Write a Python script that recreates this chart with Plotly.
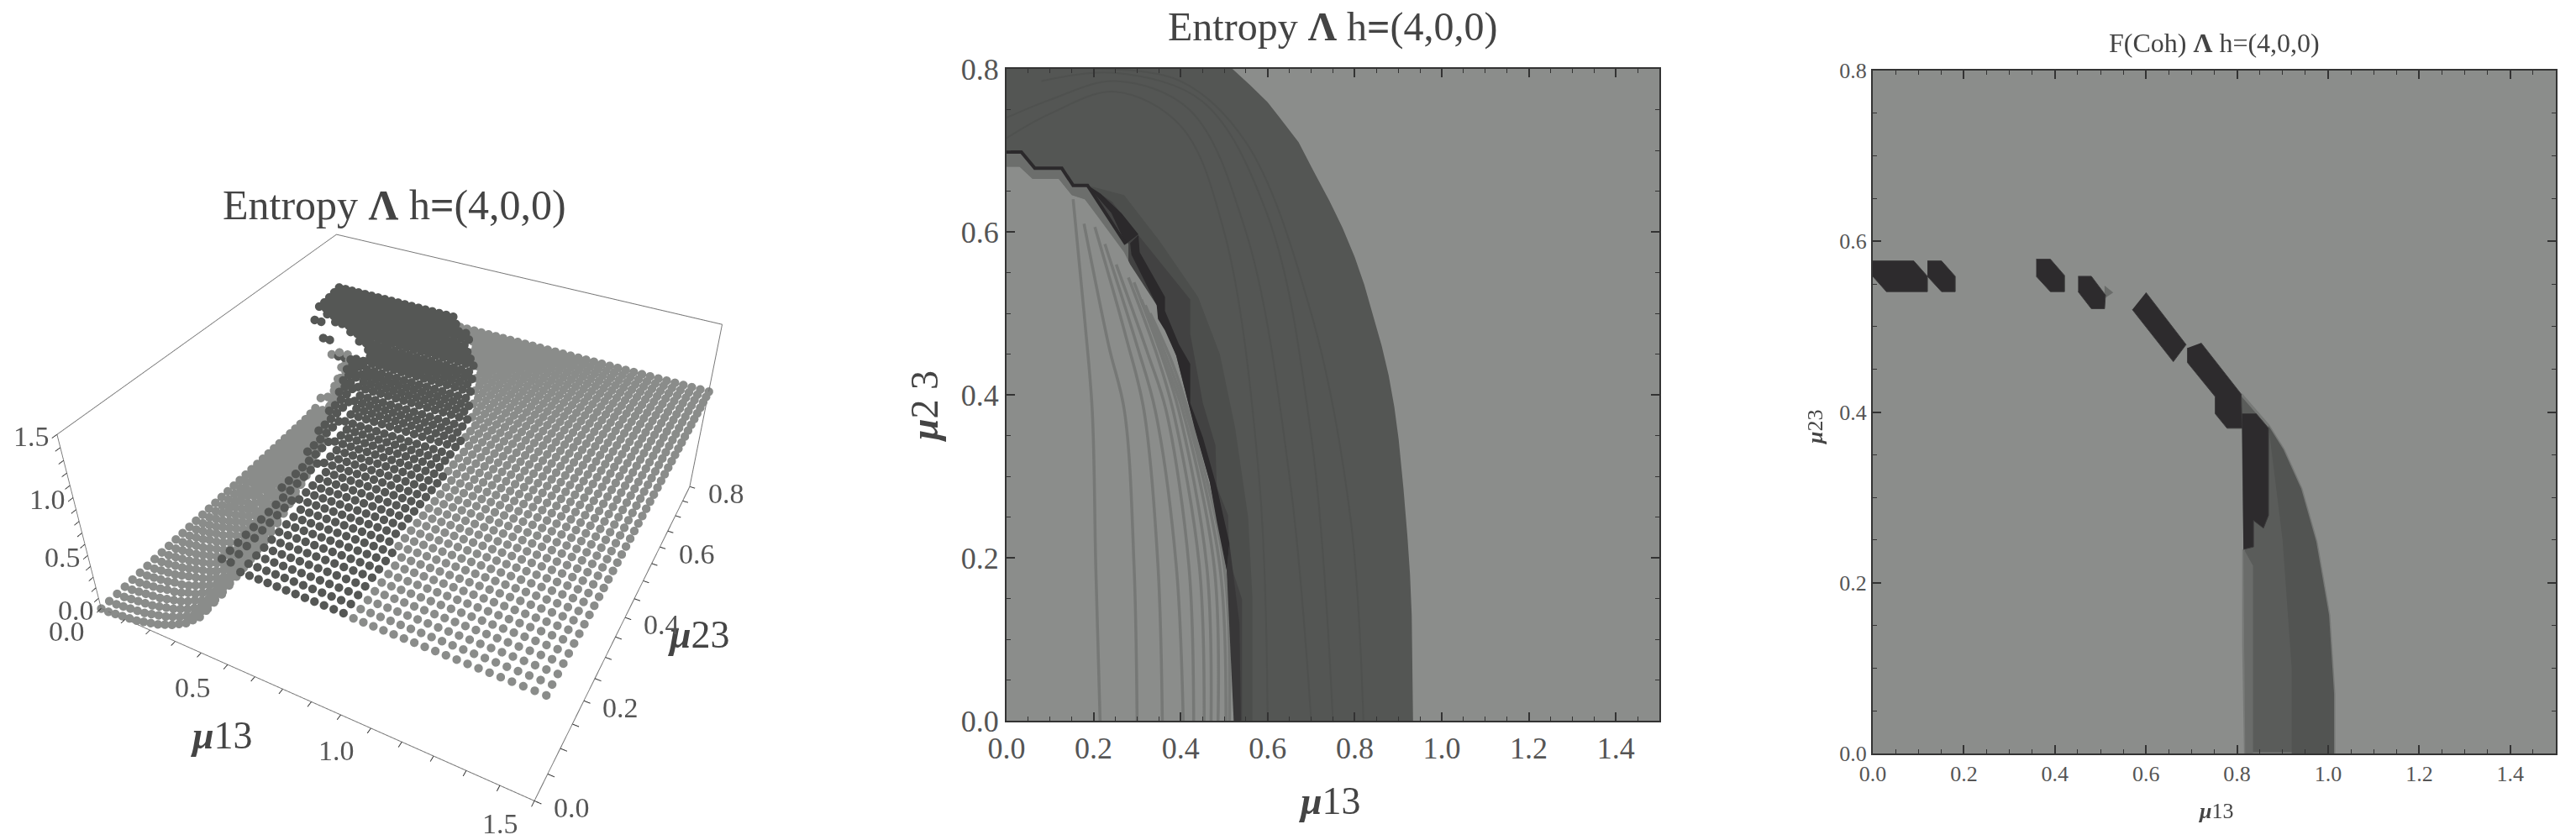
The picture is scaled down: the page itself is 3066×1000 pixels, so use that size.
import plotly.graph_objects as go

# ---------- shared data ----------
TITLE_FONT = "Liberation Serif"
mu13_grid = [0.00,0.03,0.06,0.09,0.12,0.15,0.18,0.21,0.24,0.27,0.30,0.33,0.36,0.39,0.42,0.45,0.48,0.51,0.54,0.57,0.60,0.63,0.66,0.69,0.72,0.75,0.78,0.81,0.84,0.87,0.90,0.93,0.96,0.99,1.02,1.05,1.08,1.11,1.14,1.17,1.20,1.23,1.26,1.29,1.32,1.35,1.38,1.41,1.44,1.47,1.50]
mu23_grid = [0.00,0.02,0.04,0.06,0.08,0.10,0.12,0.14,0.16,0.18,0.20,0.22,0.24,0.26,0.28,0.30,0.32,0.34,0.36,0.38,0.40,0.42,0.44,0.46,0.48,0.50,0.52,0.54,0.56,0.58,0.60,0.62,0.64,0.66,0.68,0.70,0.72,0.74,0.76,0.78,0.80]
z_inner = [
[0,0,.01,.02,.03,.04,.06,.08,.10,.13,.16,.20,.24,.30,.36,.45,.56,.85],
[0,0,.01,.02,.03,.04,.06,.08,.10,.13,.16,.20,.24,.30,.36,.45,.56,.85],
[0,0,.01,.02,.03,.04,.06,.08,.10,.13,.16,.20,.25,.30,.37,.45,.57,.85],
[0,0,.01,.02,.03,.04,.06,.08,.10,.13,.17,.20,.25,.31,.37,.46,.58,.85],
[0,0,.01,.02,.03,.05,.06,.08,.11,.13,.17,.21,.25,.31,.38,.47,.60,.86],
[0,0,.01,.02,.03,.05,.06,.08,.11,.14,.17,.21,.26,.32,.39,.48,.62,.86],
[0,0,.01,.02,.03,.05,.07,.09,.11,.14,.17,.21,.26,.32,.40,.49,.64,.87],
[0,0,.01,.02,.03,.05,.07,.09,.11,.14,.18,.22,.27,.33,.41,.51,.67,.87],
[0,0,.01,.02,.03,.05,.07,.09,.12,.14,.18,.22,.27,.34,.42,.53,.70,.88],
[0,0,.01,.02,.03,.05,.07,.09,.12,.15,.18,.23,.28,.35,.43,.55,.85],
[0,0,.01,.02,.03,.05,.07,.09,.12,.15,.19,.23,.29,.36,.45,.58,.86],
[0,0,.01,.02,.04,.05,.07,.10,.12,.15,.19,.24,.30,.37,.47,.62,.87],
[0,0,.01,.02,.04,.05,.08,.10,.13,.16,.20,.25,.31,.39,.50,.66,.87],
[0,0,.01,.02,.04,.06,.08,.10,.13,.16,.20,.26,.33,.41,.53,.71,.88],
[0,0,.01,.02,.04,.06,.08,.10,.13,.17,.21,.27,.34,.44,.58,.85],
[0,0,.01,.03,.04,.06,.08,.11,.14,.17,.22,.28,.36,.47,.63,.86],
[0,0,.01,.03,.04,.06,.08,.11,.14,.18,.23,.30,.39,.51,.70,.87],
[0,0,.01,.03,.04,.06,.09,.11,.15,.19,.25,.32,.42,.57,.85],
[0,0,.01,.03,.05,.06,.09,.12,.15,.20,.26,.34,.45,.63,.86],
[0,0,.01,.03,.05,.07,.09,.12,.16,.21,.28,.37,.50,.70,.87],
[0,0,.02,.03,.05,.07,.10,.13,.17,.23,.31,.42,.60,.85],
[0,0,.02,.03,.05,.07,.10,.13,.18,.25,.34,.47,.68,.86],
[0,0,.02,.03,.05,.08,.11,.15,.20,.28,.39,.56,.80,.88],
[0,0,.02,.04,.06,.08,.12,.16,.23,.32,.46,.68,.86],
[0,0,.02,.04,.06,.09,.13,.18,.26,.37,.55,.78,.87],
[0,0,.02,.04,.07,.10,.15,.21,.31,.47,.70,.86],
[0,0,.02,.05,.07,.11,.16,.24,.37,.57,.78,.87],
[0,0,.03,.05,.08,.13,.19,.30,.47,.72,.86],
[0,0,.03,.05,.09,.14,.22,.36,.58,.78,.87],
[0,0,.03,.06,.11,.17,.28,.48,.72,.86],
[0,.01,.03,.07,.12,.20,.35,.58,.78,.87],
[0,.01,.04,.08,.15,.27,.48,.72,.86],
[0,.02,.05,.11,.22,.45,.80],
[.01,.03,.09,.25,.70],
[.02,.15],
[],[],[],[],[],[],
]
dark_end_col = [32,32,32,32,32,32,32,32,31,31,31,31,31,31,31,31,31,31,30,30,30,30,30,29,29,29,28,28,27,27,26,26,25,25,24,23,22,22,21,19,18]
dark_first_z = [0.98,0.98,0.98,0.98,0.98,0.98,0.98,0.98,0.98,0.98,0.98,0.98,0.98,0.98,0.98,0.98,0.98,0.98,0.98,0.98,0.98,0.98,0.98,0.98,0.98,0.97,0.97,0.96,0.96,0.94,0.90,0.80,0.72,0.70,0.78,0.88,0.97,0.97,0.98,0.99,1.00]
dark_z = [0.93,0.93,0.93,0.93,0.93,0.93,0.93,0.93,0.93,0.93,0.93,0.93,0.93,0.93,0.93,0.93,0.93,0.93,0.93,0.93,0.93,0.94,0.94,0.94,0.94,0.95,0.95,0.95,0.95,0.96,0.96,0.96,0.96,0.97,0.97,0.97,0.97,0.98,0.98,0.99,1.00]
plateau_z = [0.92]*41
scene_x_labels = [0.0,0.5,1.0,1.5]
scene_y_labels = [0.0,0.2,0.4,0.6,0.8]
scene_z_labels = [0.0,0.5,1.0,1.5]

# panel 2 outlines
p2_outer_x = [0,0.519,0.56,0.600,0.635,0.671,0.705,0.742,0.772,0.800,0.822,0.842,0.862,0.878,0.891,0.901,0.912,0.921,0.927,0.931,0.933,0.934,0]
p2_outer_y = [0.8,0.8,0.78,0.759,0.735,0.710,0.675,0.638,0.605,0.569,0.535,0.497,0.46,0.424,0.385,0.345,0.285,0.227,0.18,0.129,0.07,0,0]
p2_halo_x = [0.186,0.27,0.35,0.44,0.49,0.525,0.555,0.565,0.565,0.52]
p2_halo_y = [0.657,0.645,0.59,0.52,0.45,0.36,0.25,0.15,0,0]
p2_mid_x = [0.186,0.242,0.303,0.422,0.422,0.451,0.480,0.483,0.509,0.512,0.541,0.541,0.541,0.52]
p2_mid_y = [0.657,0.637,0.596,0.517,0.475,0.39,0.338,0.287,0.252,0.197,0.149,0.046,0,0]
p2_band_x = [0,0.034,0.065,0.127,0.153,0.186,0.28,0.28,0.18,0.15,0.12,0.06,0.03,0]
p2_band_y = [0.698,0.698,0.678,0.678,0.657,0.657,0.585,0.56,0.64,0.645,0.665,0.665,0.68,0.68]
p2_light_x = [0,0.03,0.06,0.12,0.15,0.18,0.27,0.284,0.345,0.39,0.416,0.467,0.506,0.522,0.523,0]
p2_light_y = [0.68,0.68,0.665,0.665,0.645,0.64,0.575,0.56,0.51,0.448,0.393,0.293,0.184,0.046,0,0]
p2_black1_x = [0.184,0.241,0.274,0.303,0.264,0.216]
p2_black1_y = [0.658,0.623,0.585,0.597,0.623,0.647]
p2_black2_x = [0.284,0.287,0.345,0.348,0.364,0.39,0.416,0.432,0.467,0.483,0.506,0.512,0.483,0.451,0.422,0.422,0.396,0.364,0.364,0.306,0.303]
p2_black2_y = [0.586,0.572,0.51,0.493,0.479,0.448,0.393,0.359,0.293,0.245,0.184,0.218,0.287,0.348,0.39,0.438,0.462,0.503,0.52,0.575,0.596]
p2_foot_x = [0.506,0.522,0.5386,0.535,0.512]
p2_foot_y = [0.184,0,0,0.12,0.218]
p2_stair_x = [0,0.034,0.065,0.127,0.153,0.186,0.274]
p2_stair_y = [0.698,0.698,0.678,0.678,0.657,0.657,0.585]
p2_contours_x = [
 [.153,.18,.197,.205,.215],[.178,.235,.271,.293,.30],[.203,.275,.316,.348,.358],[.226,.30,.342,.39,.406],
 [.252,.325,.367,.419,.43],[.28,.345,.383,.443,.454],[.293,.355,.396,.46,.47],[.31,.365,.405,.477,.486],
 [.319,.372,.412,.49,.504],[.33,.38,.42,.50,.512]]
p2_contours_y = [
 [.64,.49,.38,.19,0],[.61,.46,.38,.19,0],[.606,.47,.38,.19,0],[.585,.46,.38,.19,0],
 [.56,.45,.38,.19,0],[.544,.45,.38,.19,0],[.538,.45,.38,.19,0],[.517,.44,.38,.19,0],
 [.51,.44,.38,.19,0],[.50,.44,.375,.19,0]]
p2_dark_arcs_x = [[0,.1,.25,.4,.5,.58,.6],[0,.1,.25,.42,.55,.65,.7],[.08,.25,.45,.6,.7,.75],[.2,.4,.55,.7,.79,.82]]
p2_dark_arcs_y = [[.715,.745,.772,.73,.6,.3,0],[.74,.762,.785,.75,.6,.3,0],[.785,.795,.76,.62,.35,0],[.80,.785,.71,.5,.25,0]]

# panel 3 outlines
p3_arc_x = [.809,.869,.902,.941,.974,1.002,1.013,1.013,.818,.814,.814]
p3_arc_y = [.421,.384,.356,.31,.248,.162,.07,0,0,.125,.239]
p3_right_x = [.869,.902,.941,.974,1.002,1.013,1.013,.92,.92,.90]
p3_right_y = [.384,.356,.31,.248,.162,.07,0,0,.10,.25]
p3_left_x = [.814,.835,.835,.818]
p3_left_y = [.24,.22,0,0]
p3_blobs_x = [
 [0,.09,.12,.12,.03,0],[.12,.151,.181,.181,.151,.12],[.359,.39,.421,.421,.39,.359],[.451,.48,.511,.509,.48,.451],
 [.60,.688,.66,.57],[.721,.809,.811,.778,.752,.752,.691,.691],[.811,.842,.869,.869,.858,.836,.836,.814]]
p3_blobs_y = [
 [.577,.577,.559,.541,.541,.559],[.577,.577,.559,.541,.541,.559],[.579,.579,.56,.541,.541,.559],[.559,.559,.537,.521,.521,.541],
 [.54,.479,.459,.52],[.481,.421,.381,.381,.398,.418,.458,.475],[.398,.398,.381,.279,.264,.273,.242,.239]]
p3_spot_x = [.509,.528,.509]
p3_spot_y = [.548,.54,.533]

tick_labels_x = ["0.0","0.2","0.4","0.6","0.8","1.0","1.2","1.4"]
tick_vals_x = [0,0.2,0.4,0.6,0.8,1.0,1.2,1.4]
tick_labels_y = ["0.0","0.2","0.4","0.6","0.8"]
tick_vals_y = [0,0.2,0.4,0.6,0.8]

LIGHT = "#8b8d8b"
DARK = "#545654"
BLACK = "#2b292b"
DOT_LIGHT = "#8a8c8a"
DOT_DARK = "#555755"

W, H = 3066, 1000
OFF = 8  # the page body offsets the plot by this many pixels
def fx(px): return (px - OFF) / W
def fy(py): return 1 - (py - OFF) / H

fig = go.Figure()

# ---------- panel 1: 3D point cloud ----------
xs, ys, zs, cs = [], [], [], []
for r, y in enumerate(mu23_grid):
    inner = z_inner[r]
    n = len(inner)
    for c, x in enumerate(mu13_grid):
        if c < n:
            z, col = inner[c], DOT_LIGHT
        elif c < dark_end_col[r]:
            z, col = (dark_first_z[r] if c - n < 2 else dark_z[r]), DOT_DARK
        else:
            z, col = plateau_z[r], DOT_LIGHT
        xs.append(x); ys.append(y); zs.append(z); cs.append(col)
fig.add_trace(go.Scatter3d(x=xs, y=ys, z=zs, mode="markers",
    marker=dict(size=6, color=cs, line=dict(width=0), opacity=1), hoverinfo="skip", scene="scene", showlegend=False))

axis3d = dict(showbackground=False, showgrid=False, zeroline=False, showline=True,
              linecolor="#777777", linewidth=2, mirror=True, ticks="outside", ticklen=6,
              tickcolor="#333333", tickwidth=2, title=dict(text=""), showticklabels=False, showspikes=False)

scene_notes = []
def note3d(x, y, z, label, dx, dy):
    scene_notes.append(dict(x=x, y=y, z=z, text=label, showarrow=False, xshift=dx, yshift=dy,
                            font=dict(family=TITLE_FONT, size=34, color="#555555")))
for v in scene_x_labels:
    note3d(v, 0, 0, f"{v:.1f}", -41, -27)
for v in scene_y_labels:
    note3d(1.5, v, 0, f"{v:.1f}", 44, -8)
for v in scene_z_labels:
    note3d(0, 0, v, f"{v:.1f}", -30, -2)

fig.update_layout(scene=dict(
    domain=dict(x=[0, fx(984)], y=[0, 1]),
    xaxis=dict(axis3d, range=[0, 1.5], dtick=0.1),
    yaxis=dict(axis3d, range=[0, 0.8], dtick=0.05),
    zaxis=dict(axis3d, range=[0, 1.5], dtick=0.1),
    aspectmode="manual", aspectratio=dict(x=1, y=1, z=0.46),
    camera=dict(eye=dict(x=0.82, y=-1.548, z=1.347), center=dict(x=0, y=0, z=0.10), up=dict(x=0, y=0, z=1),
                projection=dict(type="perspective")),
    annotations=scene_notes,
    bgcolor="rgba(0,0,0,0)"))

# ---------- helpers ----------
def poly(x, y, fill, xa, ya, line=None, lw=0):
    fig.add_trace(go.Scatter(x=x, y=y, mode="lines", fill="toself", fillcolor=fill,
        line=dict(color=line or fill, width=lw), xaxis=xa, yaxis=ya, hoverinfo="skip", showlegend=False))

def stroke(x, y, color, w, xa, ya, shape="linear"):
    fig.add_trace(go.Scatter(x=x, y=y, mode="lines", line=dict(color=color, width=w, shape=shape),
        xaxis=xa, yaxis=ya, hoverinfo="skip", showlegend=False))

# ---------- panel 2 ----------
poly(p2_outer_x, p2_outer_y, DARK, "x", "y")
for ax, ay in zip(p2_dark_arcs_x, p2_dark_arcs_y):
    stroke(ax, ay, "#4f514f", 2, "x", "y", "spline")
poly(p2_halo_x + p2_light_x[5:-1][::-1], p2_halo_y + p2_light_y[5:-1][::-1], "#4c4e4c", "x", "y")
poly(p2_mid_x + p2_light_x[5:-1][::-1], p2_mid_y + p2_light_y[5:-1][::-1], "#424242", "x", "y")
poly(p2_band_x, p2_band_y, "#6c6e6c", "x", "y")
poly(p2_light_x, p2_light_y, LIGHT, "x", "y")
for i, (cx, cy) in enumerate(zip(p2_contours_x, p2_contours_y)):
    stroke(cx, cy, "#767876", 3.5, "x", "y", "spline")
poly(p2_black1_x, p2_black1_y, BLACK, "x", "y")
poly(p2_black2_x, p2_black2_y, BLACK, "x", "y")
poly(p2_foot_x, p2_foot_y, "#383738", "x", "y")
stroke(p2_stair_x, p2_stair_y, BLACK, 4, "x", "y")

# ---------- panel 3 ----------
poly(p3_arc_x, p3_arc_y, "#5a5c5a", "x2", "y2", line="#777977", lw=3)
poly(p3_right_x, p3_right_y, "#525452", "x2", "y2")
poly(p3_left_x, p3_left_y, "#6a6c6a", "x2", "y2")
poly(p3_spot_x, p3_spot_y, "#6a6c6a", "x2", "y2")
for bx, by in zip(p3_blobs_x, p3_blobs_y):
    poly(bx, by, "#2d2b2d", "x2", "y2", line="#3b3a3b", lw=1)

def cart(domain, rng, vals, labels, size, anchor):
    return dict(domain=domain, range=rng, tickmode="array", tickvals=vals, ticktext=labels, anchor=anchor,
                ticks="inside", ticklen=10, tickwidth=1.5, tickcolor="#333333", showgrid=False, zeroline=False,
                showline=True, linecolor="#333333", linewidth=2, mirror="ticks",
                minor=dict(dtick=0.05, ticks="inside", ticklen=5, tickwidth=1, tickcolor="#333333", showgrid=False),
                tickfont=dict(family=TITLE_FONT, size=size, color="#555555"))

fig.update_layout(
    width=W, height=H, paper_bgcolor="white", plot_bgcolor=LIGHT,
    margin=dict(l=0, r=0, t=0, b=0, autoexpand=False),
    showlegend=False, hovermode=False,
    xaxis=cart([fx(1198), fx(1975)], [0, 1.5], tick_vals_x, tick_labels_x, 36, "y"),
    yaxis=cart([fy(858), fy(82)], [0, 0.8], tick_vals_y, tick_labels_y, 36, "x"),
    xaxis2=cart([fx(2229), fx(3042)], [0, 1.5], tick_vals_x, tick_labels_x, 26, "y2"),
    yaxis2=cart([fy(897), fy(84)], [0, 0.8], tick_vals_y, tick_labels_y, 26, "x2"),
)

def text(s, px, py, size, angle=0):
    fig.add_annotation(text=s, x=fx(px), y=fy(py), xref="paper", yref="paper", showarrow=False,
        font=dict(family=TITLE_FONT, size=size, color="#444444"), xanchor="center", yanchor="middle", textangle=angle)

text("Entropy <b>Λ</b> h<b>=</b>(4,0,0)", 469, 244, 50)
text("Entropy <b>Λ</b> h<b>=</b>(4,0,0)", 1586, 32, 48)
text("F(Coh) <b>Λ</b> h=(4,0,0)", 2635, 51, 32)
text("<b><i>μ</i></b>13", 264, 875, 46)
text("<b><i>μ</i></b>23", 832, 755, 46)
text("<b><i>μ</i></b>13", 1583, 953, 46)
text("<b><i>μ</i></b>2 3", 1100, 484, 46, -90)
text("<b><i>μ</i></b>13", 2637, 965, 26)
text("<b><i>μ</i></b>23", 2160, 509, 26, -90)

fig.write_html("out.html")
